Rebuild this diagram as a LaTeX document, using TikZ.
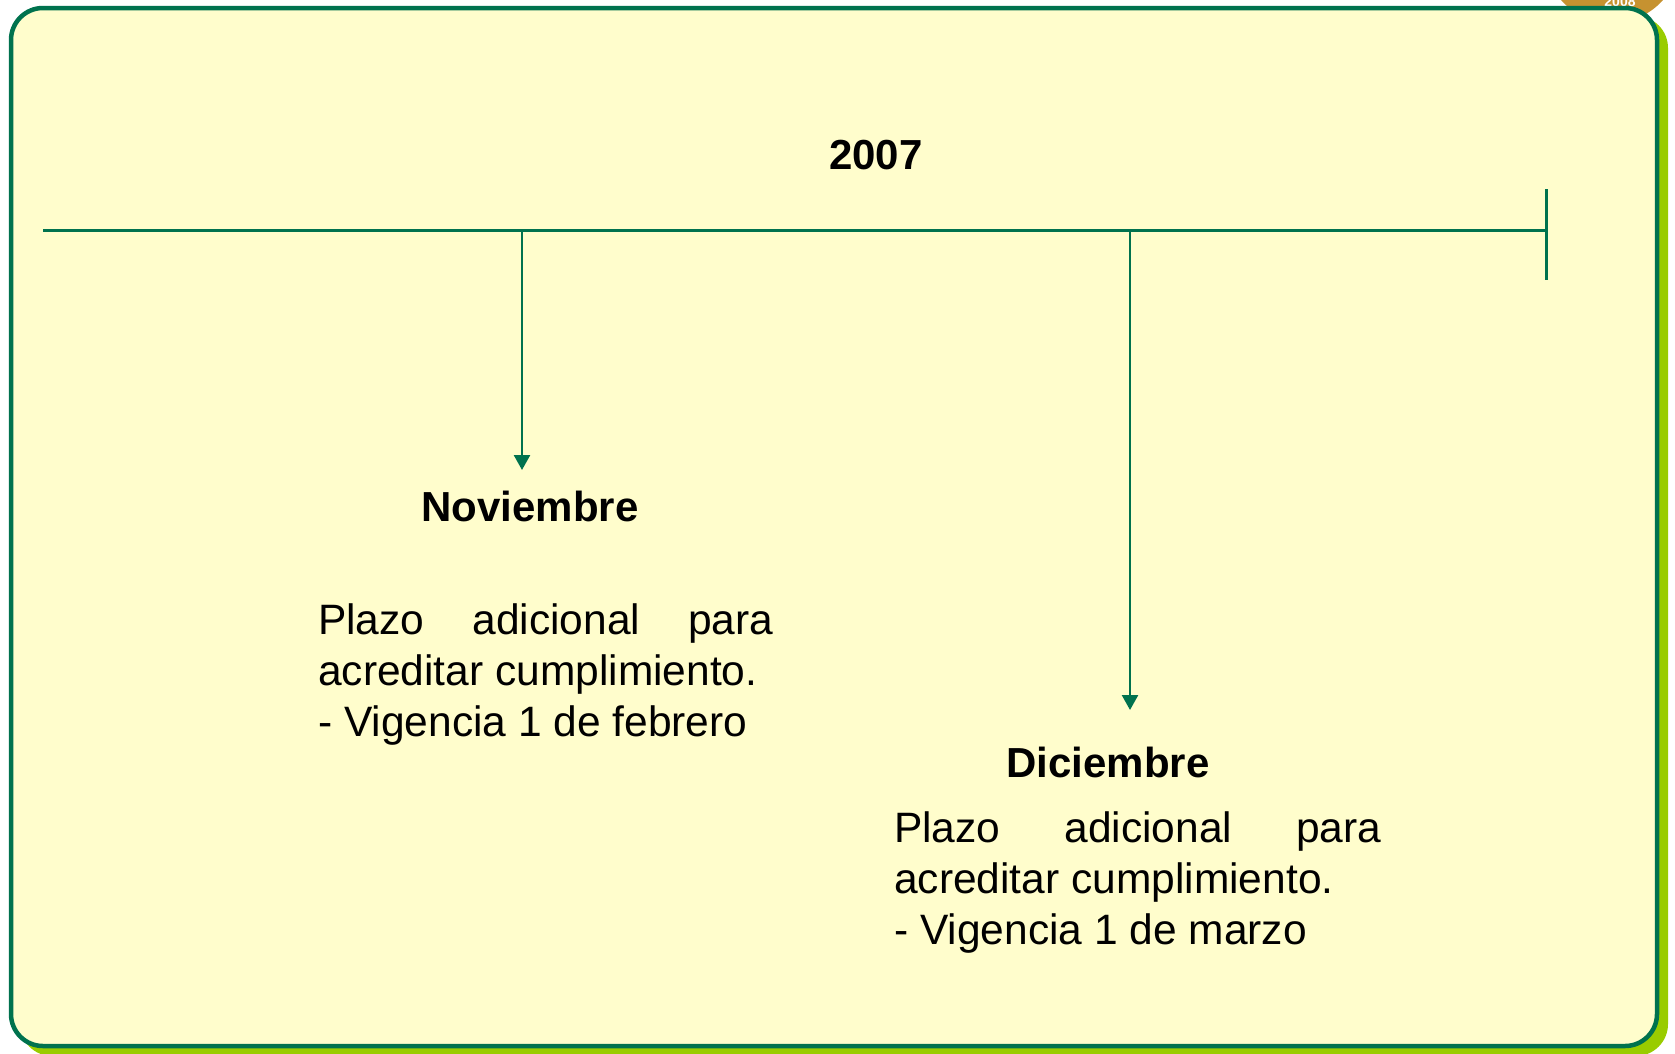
\documentclass[tikz,border=0pt]{standalone}
\usepackage{fontspec}
\setmainfont{Liberation Sans}
\usetikzlibrary{arrows.meta}
\hyphenpenalty=10000
\exhyphenpenalty=10000
\definecolor{linegreen}{RGB}{0,114,78}
\definecolor{paleyellow}{RGB}{255,253,204}
\definecolor{limegreen}{RGB}{153,204,0}
\definecolor{coingold}{RGB}{198,146,48}
\tikzset{
	month/.style={font=\fontsize{42}{50}\selectfont\bfseries, anchor=base, inner sep=0pt},
	note/.style={font=\fontsize{42.5}{51}\selectfont, align=justify, anchor=north west, inner sep=0pt},
	dropline/.style={line width=2.5pt, color=linegreen, -{Triangle[length=15pt,width=16pt]}},
}

\begin{document}
\begin{tikzpicture}[x=1pt, y=-1pt]
			%%%%% START %%%%%
			
			\useasboundingbox (0, 0) rectangle (1675, 1053);
			
			\fill[coingold] (1612, -45) circle (68);
			\node[font=\fontsize{14}{14}\selectfont\bfseries, color=white, anchor=base] (seal) at (1620, 6) {2008};
			
			\fill[limegreen, rounded corners=32pt] (20, 16) rectangle (1668, 1056);
			\draw[line width=4.5pt, draw=linegreen, fill=paleyellow, rounded corners=32pt] (11, 8) rectangle (1657, 1046);
			
			\coordinate (start) at (43, 230);
			\coordinate (end) at (1546, 230);
			\coordinate (nov) at (522, 230);
			\coordinate (dic) at (1130, 230);
			\draw[line width=3pt, color=linegreen] (start) -- (end);
			\draw[line width=3pt, color=linegreen] (1546, 189) -- (1546, 280);
			
			\node[month] (year) at (876, 169) {2007};
			
			\coordinate (novtip) at (522, 470);
			\draw[dropline] (nov) -- (novtip);
			\node[month] (novlabel) at (530, 521) {Noviembre};
			\node[note, text width=455pt] (novnote) at (318, 603) {Plazo adicional para acreditar cumplimiento.\\- Vigencia 1 de febrero};
			
			\coordinate (dictip) at (1130, 710);
			\draw[dropline] (dic) -- (dictip);
			\node[month] (diclabel) at (1108, 777) {Diciembre};
			\node[note, text width=487pt] (dicnote) at (894, 811) {Plazo adicional para acreditar cumplimiento.\\- Vigencia 1 de marzo};
			
			%%%%% END %%%%%
\end{tikzpicture}
\end{document}
